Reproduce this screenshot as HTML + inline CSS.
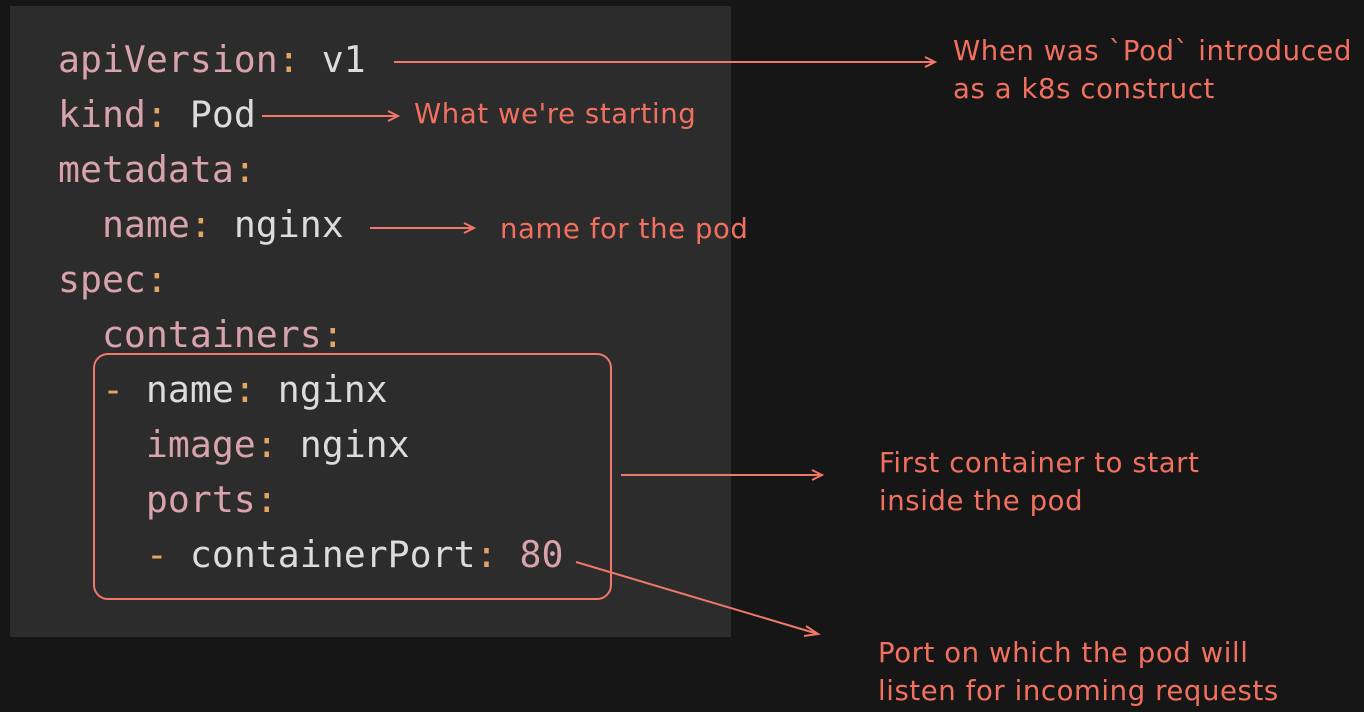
<!DOCTYPE html>
<html><head><style>
body{margin:0;width:1364px;height:712px;background:#161616;overflow:hidden;position:relative;font-family:"Liberation Sans",sans-serif}
.panel{position:absolute;left:10px;top:6px;width:721px;height:631px;background:#2c2c2c}
.code{position:absolute;left:58px;top:32px;font-family:"DejaVu Sans Mono","Liberation Mono",monospace;font-size:36.5px;line-height:55px;white-space:pre;color:#dcdcdc}
.k{color:#d9a3ad}.c{color:#e3a662}.n{color:#d9a3ad}
.note{position:absolute;color:#f2705f;font-family:"Comic Sans MS","DejaVu Sans",sans-serif;font-size:27.5px;line-height:38px;white-space:pre;letter-spacing:0.6px}
svg{position:absolute;left:0;top:0}
</style></head><body>
<div class="panel"></div>
<div class="code"><span class="k">apiVersion</span><span class="c">:</span> v1
<span class="k">kind</span><span class="c">:</span> Pod
<span class="k">metadata</span><span class="c">:</span>
  <span class="k">name</span><span class="c">:</span> nginx
<span class="k">spec</span><span class="c">:</span>
  <span class="k">containers</span><span class="c">:</span>
  <span class="c">-</span> name<span class="c">:</span> nginx
    <span class="k">image</span><span class="c">:</span> nginx
    <span class="k">ports</span><span class="c">:</span>
    <span class="c">-</span> containerPort<span class="c">:</span> <span class="n">80</span></div>
<svg width="1364" height="712" fill="none" stroke="#f0776a" stroke-width="2">
<rect x="94" y="354" width="517" height="245" rx="14"/>
<path d="M394 62 L935 62 M925 57 L935 62 L925 67"/>
<path d="M262 116 L398 116 M388 111 L398 116 L388 121"/>
<path d="M370 228 L474 228 M464 223 L474 228 L464 233"/>
<path d="M621 475 L822 475 M812 470 L822 475 L812 480"/>
<path d="M576 562 L818 634 M806 626 L818 634 L804 636"/>
</svg>
<div class="note" style="left:953px;top:32px">When was `Pod` introduced
as a k8s construct</div>
<div class="note" style="left:414px;top:95px">What we're starting</div>
<div class="note" style="left:500px;top:210px">name for the pod</div>
<div class="note" style="left:879px;top:444px">First container to start
inside the pod</div>
<div class="note" style="left:878px;top:634px">Port on which the pod will
listen for incoming requests</div>
</body></html>
